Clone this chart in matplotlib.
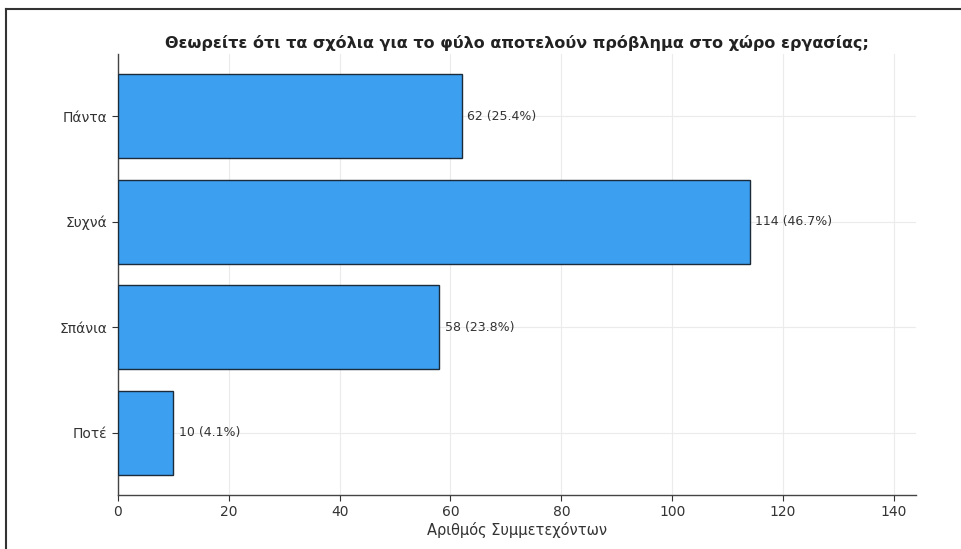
import matplotlib
matplotlib.use("Agg")
import matplotlib.pyplot as plt
from matplotlib.lines import Line2D

# Survey answers (top to bottom as shown)
categories = ["Πάντα", "Συχνά", "Σπάνια", "Ποτέ"]
counts = [62, 114, 58, 10]
total = sum(counts)

title = "Θεωρείτε ότι τα σχόλια για το φύλο αποτελούν πρόβλημα στο χώρο εργασίας;"
xlabel = "Αριθμός Συμμετεχόντων"

fig = plt.figure(figsize=(9.61, 5.49), dpi=100)
ax = fig.add_axes([118 / 961, 54 / 549, 798 / 961, 441 / 549])

ypos = list(range(len(categories)))
ax.barh(ypos, counts, height=0.8, color="#3d9ff0", edgecolor="#1c2b3a", linewidth=1.0, zorder=3)
ax.invert_yaxis()
ax.set_yticks(ypos)
ax.set_yticklabels(categories)

# value labels next to each bar
for y, c in zip(ypos, counts):
    ax.text(c + 1, y, f"{c} ({c / total * 100:.1f}%)", va="center", ha="left",
            fontsize=9, color="#333333", zorder=4)

ax.set_xlim(0, 144)
ax.set_xticks(range(0, 141, 20))
ax.set_xlabel(xlabel, fontsize=10.5, color="#333333", labelpad=2)
ax.set_title(title, fontsize=11.5, fontweight="bold", color="#222222", pad=4)

ax.grid(True, color="#ebebeb", linewidth=0.8, zorder=0)
for side in ["top", "right"]:
    ax.spines[side].set_visible(False)
for side in ["left", "bottom"]:
    ax.spines[side].set_color("#444444")
    ax.spines[side].set_linewidth(1.0)
ax.tick_params(axis="both", labelsize=10, colors="#333333", length=4)

# thin frame at the left and top of the image
fig.add_artist(Line2D([6 / 961, 6 / 961], [0, 1 - 9 / 549], color="#333333", linewidth=1.5))
fig.add_artist(Line2D([6 / 961, 1], [1 - 9 / 549, 1 - 9 / 549], color="#333333", linewidth=1.5))

fig.savefig("out.png", dpi=100)
